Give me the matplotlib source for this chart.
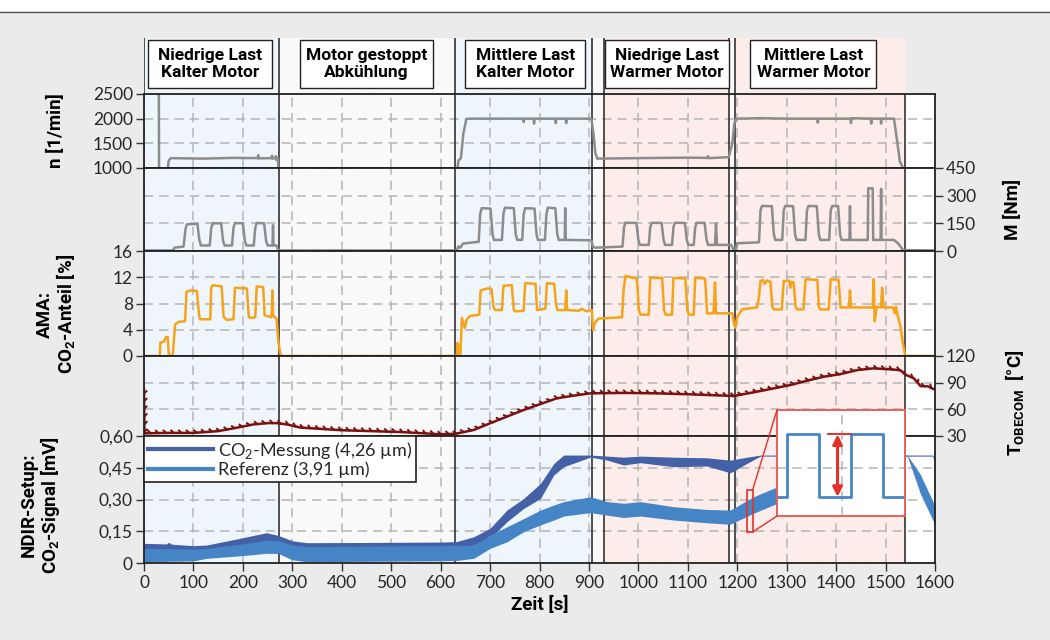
import numpy as np
import matplotlib.pyplot as plt
from matplotlib import patheffects
from matplotlib.lines import Line2D
from matplotlib.patches import Rectangle, ConnectionPatch

plt.rcParams['font.family'] = ['Lato', 'DejaVu Sans']
LABEL_FONT = ['Liberation Sans Narrow', 'Roboto', 'DejaVu Sans']

# --- test phases -----------------------------------------------------------
phase_start = [0, 273, 630, 907, 931, 1184, 1196, 1540]
phase_end = [273, 630, 907, 931, 1184, 1196, 1540, 1600]
phase_color = ['#eef6fb', '#f9f9f9', '#eef6fb', '#f9f9f9', '#fcecea', '#f9f9f9', '#fcecea', '#ffffff']
phase_lines = [273, 630, 907, 931, 1184, 1196, 1540]
box_x = [134, 450, 771, 1058, 1354]
box_w = [251, 269, 243, 249, 255]
box_text = ['Niedrige Last\nKalter Motor', 'Motor gestoppt\nAbkühlung', 'Mittlere Last\nKalter Motor',
            'Niedrige Last\nWarmer Motor', 'Mittlere Last\nWarmer Motor']

# --- measured signals (time [s], value) ------------------------------------
speed = [(30, 2600), (30.5, 900), (47, 900), (50, 1150), (54, 1200), (120, 1190), (180, 1205), (230, 1200),
         (231, 1260), (232, 1195), (258, 1200), (259, 1250), (260, 1190), (266, 1200), (267, 1240), (268, 1160),
         (271, 1200), (272, 900), (np.nan, np.nan),
         (630, 900), (633, 900), (636, 1150), (641, 1200), (646, 1700), (652, 1990), (655, 2000), (700, 2000),
         (767, 2000), (768, 1930), (769, 2000), (788, 2000), (789, 1900), (790, 2000), (832, 2000), (833, 1910),
         (834, 2000), (853, 2000), (854, 1910), (855, 2000), (905, 2000), (909, 1700), (913, 1300), (917, 1190),
         (1000, 1200), (1100, 1210), (1140, 1205), (1141, 1240), (1142, 1200), (1183, 1220), (1190, 1500),
         (1194, 1900), (1198, 2000), (1250, 2010), (1300, 2000), (1362, 2000), (1363, 1920), (1364, 2000),
         (1429, 2000), (1430, 1910), (1431, 2010), (1470, 2000), (1471, 1900), (1472, 2000), (1490, 2000),
         (1491, 1900), (1492, 2000), (1517, 2000), (1525, 1430), (1529, 1130), (1534, 1030), (1536, 900)]

torque = [(0, 3), (58, 3), (62, 18), (80, 24), (84, 120), (87, 145), (108, 147), (112, 60), (115, 30), (133, 30),
          (136, 125), (139, 150), (156, 150), (160, 55), (163, 30), (178, 30), (181, 125), (184, 152), (200, 150),
          (204, 55), (207, 30), (222, 30), (225, 125), (228, 152), (243, 150), (247, 55), (250, 30), (260, 30),
          (261, 140), (262, 30), (268, 30), (271, 8), (275, 3), (630, 3),
          (633, 3), (636, 25), (640, 18), (645, 40), (660, 45), (677, 50), (680, 200), (683, 232), (701, 230),
          (705, 90), (708, 60), (724, 60), (727, 200), (730, 235), (748, 232), (752, 90), (755, 60), (765, 60),
          (768, 200), (771, 232), (790, 230), (794, 90), (797, 60), (811, 60), (814, 200), (817, 235), (832, 232),
          (836, 90), (839, 60), (851, 60), (852, 232), (853, 60), (905, 58), (908, 25), (912, 18), (968, 24),
          (971, 130), (974, 153), (996, 152), (1000, 60), (1003, 33), (1021, 33), (1024, 130), (1027, 153),
          (1047, 152), (1051, 60), (1054, 33), (1068, 33), (1071, 130), (1074, 153), (1094, 152), (1098, 60),
          (1101, 33), (1112, 33), (1115, 130), (1118, 153), (1134, 152), (1138, 60), (1141, 33), (1155, 33),
          (1157, 150), (1159, 33), (1188, 33), (1192, 5), (1196, 5),
          (1200, 42), (1244, 47), (1247, 220), (1250, 244), (1270, 243), (1274, 90), (1277, 60), (1291, 60),
          (1294, 220), (1297, 244), (1313, 243), (1317, 90), (1320, 60), (1338, 60), (1341, 220), (1344, 244),
          (1361, 243), (1365, 90), (1368, 60), (1386, 60), (1389, 220), (1392, 244), (1404, 243), (1408, 90),
          (1411, 60), (1427, 60), (1428, 244), (1429, 60), (1464, 60), (1465, 340), (1474, 340), (1475, 60),
          (1490, 60), (1491, 337), (1492, 60), (1517, 60), (1525, 42), (1530, 25), (1535, 5), (1600, 3)]

co2_ama = [(0, 0), (32, 0), (33, 2.0), (40, 2.2), (45, 2.9), (48, 2.9), (50, 0.3), (54, 0), (58, 0), (63, 4.8),
           (70, 5.2), (83, 5.3), (86, 9.8), (95, 10.0), (107, 9.9), (111, 6.5), (113, 5.6), (134, 5.6), (136, 10.5),
           (140, 10.8), (157, 10.6), (161, 6), (167, 5.5), (181, 5.6), (184, 10.4), (208, 10.3), (212, 6),
           (215, 5.8), (225, 5.9), (228, 10.6), (241, 10.5), (244, 6.2), (258, 5.9), (260, 10), (261, 6.2),
           (268, 5.7), (272, 2), (276, 0.3), (279, 0), (633, 0), (634, 2), (636, 1.5), (638, 0), (640, 0),
           (643, 5.8), (649, 4.3), (653, 5.6), (660, 6.1), (678, 6.3), (681, 10.0), (695, 10.3), (703, 10.2),
           (707, 7.5), (710, 7.0), (724, 7.0), (727, 10.7), (744, 10.8), (748, 7), (751, 6.8), (768, 6.9),
           (771, 11.1), (792, 11), (795, 7), (812, 7.2), (815, 11.1), (830, 11), (833, 8), (836, 7), (852, 7),
           (854, 10), (856, 7), (880, 6.9), (885, 7.2), (895, 6.8), (906, 7), (908, 4), (912, 5), (919, 5.7),
           (967, 5.9), (970, 10), (974, 12.2), (990, 11.9), (997, 11.8), (1001, 7), (1004, 6.3), (1021, 6.3),
           (1024, 11.9), (1048, 11.9), (1052, 7), (1055, 6.3), (1068, 6.3), (1071, 11.9), (1095, 11.8),
           (1099, 7), (1102, 6.3), (1112, 6.3), (1115, 11.9), (1135, 11.8), (1139, 6.5), (1152, 6.5),
           (1155, 11.2), (1157, 6.5), (1190, 6.5), (1193, 5), (1196, 4.3), (1200, 6), (1210, 7.1), (1240, 7.4),
           (1244, 9), (1247, 11.4), (1252, 11.6), (1255, 11.0), (1260, 11.5), (1267, 11.3), (1271, 7.5),
           (1274, 7.1), (1290, 7.1), (1294, 11.4), (1305, 11.5), (1307, 10.4), (1310, 11.3), (1314, 11.2),
           (1318, 7.5), (1321, 7.1), (1334, 7.1), (1338, 11.6), (1341, 11.7), (1362, 11.6), (1365, 7.5),
           (1368, 7.1), (1385, 7.1), (1389, 11.7), (1405, 11.6), (1409, 7.4), (1426, 7.4), (1428, 10),
           (1430, 7.4), (1474, 7.4), (1476, 11.7), (1478, 5.3), (1482, 7.5), (1491, 7.4), (1493, 10.4),
           (1496, 7.4), (1515, 7.4), (1517, 7), (1519, 6.5), (1521, 7.5), (1525, 6), (1530, 4.6), (1535, 2),
           (1540, 0), (1600, 0)]

temp = [(0, 82), (0.8, 33), (50, 33.5), (100, 33.5), (150, 35.5), (181, 38.6), (221, 43), (250, 44.5),
        (268, 44.5), (290, 43), (316, 39.5), (400, 36.5), (518, 34.5), (599, 32), (630, 32.5), (667, 36.8),
        (700, 44.3), (734, 51.8), (768, 59.3), (802, 66), (835, 72.4), (869, 75.4), (903, 78), (970, 78.5),
        (1038, 78), (1105, 76.9), (1193, 75), (1240, 79.9), (1274, 83.6), (1308, 87.4), (1341, 92.2),
        (1375, 96.7), (1409, 99.7), (1443, 104.2), (1476, 106.1), (1510, 105), (1530, 104), (1540, 99),
        (1557, 95), (1571, 86), (1585, 86), (1600, 82)]

# NDIR signal bands: time, upper envelope, lower envelope [mV]
meas_t = [0, 45, 50, 55, 60, 100, 127, 180, 221, 248, 272, 300, 329, 450, 599, 632, 667, 700, 734, 768, 802,
          829, 849, 903, 937, 970, 1004, 1071, 1139, 1186, 1220, 1247, 1595, 1600]
meas_hi = [0.093, 0.09, 0.098, 0.09, 0.088, 0.082, 0.085, 0.11, 0.13, 0.143, 0.13, 0.105, 0.096, 0.097, 0.099,
           0.101, 0.124, 0.164, 0.25, 0.305, 0.376, 0.47, 0.51, 0.51, 0.505, 0.50, 0.505, 0.50, 0.497, 0.486,
           0.5, 0.51, 0.51, 0.49]
meas_lo = [0.05, 0.05, 0.05, 0.05, 0.05, 0.05, 0.05, 0.06, 0.07, 0.08, 0.08, 0.06, 0.05, 0.05, 0.05, 0.05,
           0.085, 0.116, 0.195, 0.258, 0.305, 0.416, 0.455, 0.50, 0.486, 0.463, 0.474, 0.455, 0.458, 0.426,
           0.471, 0.505, 0.505, 0.47]
ref_t = [0, 100, 127, 200, 248, 272, 300, 329, 450, 599, 632, 667, 700, 734, 768, 802, 829, 849, 903, 937,
         970, 1004, 1071, 1139, 1186, 1233, 1281, 1400, 1500, 1544, 1570, 1600]
ref_hi = [0.07, 0.065, 0.069, 0.09, 0.109, 0.105, 0.085, 0.077, 0.08, 0.082, 0.083, 0.085, 0.132, 0.171, 0.21,
          0.25, 0.274, 0.29, 0.313, 0.29, 0.282, 0.29, 0.266, 0.253, 0.25, 0.313, 0.36, 0.45, 0.51, 0.51, 0.42,
          0.27]
ref_lo = [0.006, 0.01, 0.022, 0.035, 0.046, 0.045, 0.015, 0.006, 0.008, 0.01, 0.012, 0.022, 0.069, 0.1, 0.148,
          0.18, 0.203, 0.222, 0.238, 0.226, 0.215, 0.222, 0.203, 0.19, 0.183, 0.235, 0.282, 0.38, 0.48, 0.505,
          0.33, 0.18]

# zoomed detail (modulated signal)
zoom_window = [1219, 1231, 0.146, 0.345]
inset_t = [0, 0.8, 0.8, 3.25, 3.25, 5.75, 5.75, 8.3, 8.3, 10]
inset_v = [0.18, 0.18, 0.77, 0.77, 0.18, 0.18, 0.77, 0.77, 0.18, 0.18]

x_ticks = list(range(0, 1601, 100))
n_ticks = [1000, 1500, 2000, 2500]
m_ticks = [0, 150, 300, 450]
ama_ticks = [0, 4, 8, 12, 16]
t_ticks = [30, 60, 90, 120]
ndir_ticks = [0, 0.15, 0.30, 0.45, 0.60]
ndir_labels = ['0', '0,15', '0,30', '0,45', '0,60']

GRAY = '#8c8c8c'
ORANGE = '#f5a31a'
DARKRED = '#7a1010'
MEAS_C = '#4461a8'
REF_C = '#4585c5'
RED = '#e5302a'
TXT = '#262626'

W, H = 1050, 640
X0, X1 = 144 / W, 935 / W
fig = plt.figure(figsize=(W / 100, H / 100), dpi=100, facecolor='#ebebeb')
fig.add_artist(Rectangle((0, 1 - 11 / H), 1, 11 / H, transform=fig.transFigure, fc='white', ec='none'))
fig.add_artist(Line2D([0, 1], [1 - 11.5 / H] * 2, transform=fig.transFigure, color='#555555', lw=1))


def panel(top, bottom):
    return fig.add_axes([X0, 1 - bottom / H, X1 - X0, (bottom - top) / H])


head = panel(38, 94)
ax_n = panel(94, 168)
ax_m = panel(168, 251)
ax_a = panel(251, 356)
ax_t = panel(356, 436)
ax_d = panel(436, 563)

# header strip with phase boxes
head.set_xlim(0, 1600)
head.set_ylim(0, 1)
head.patch.set_alpha(0)
head.axis('off')
for s, e, c in zip(phase_start[:-1], phase_end[:-1], phase_color[:-1]):
    head.axvspan(s, e, color=c, lw=0)
for x in [0] + phase_lines[:-1]:
    head.axvline(x, color='#222222', lw=1.1)
for x, w, txt in zip(box_x, box_w, box_text):
    head.add_patch(Rectangle((x - w / 2, 0.107), w, 0.857, fc='white', ec='#222222', lw=1, zorder=3))
    head.text(x, 0.535, txt, ha='center', va='center', fontsize=12.5, fontweight='bold', family=LABEL_FONT,
              linespacing=1.15, zorder=4)

for ax in [ax_n, ax_m, ax_a, ax_t, ax_d]:
    ax.set_xlim(0, 1600)
    ax.set_facecolor('white')
    for s, e, c in zip(phase_start, phase_end, phase_color):
        ax.axvspan(s, e, color=c, lw=0, zorder=0.5)
    for x in phase_lines:
        ax.axvline(x, color='#222222', lw=1.1, zorder=1.8)
    ax.set_xticks(x_ticks)
    ax.grid(True, color='#b4b4b4', ls=(0, (6, 4)), lw=1.1)
    ax.tick_params(axis='x', length=0, labelbottom=False)
    ax.tick_params(axis='y', direction='out', length=6, width=1, color='#333333', labelsize=12.5,
                   labelcolor=TXT, pad=2)
    for sp in ax.spines.values():
        sp.set_color('#222222')
        sp.set_linewidth(1.3)

lab = dict(fontsize=13.5, fontweight='bold', family=LABEL_FONT, linespacing=1.0)

# engine speed
t, v = zip(*speed)
ax_n.plot(t, v, color=GRAY, lw=1.8)
ax_n.set_ylim(1000, 2500)
ax_n.set_yticks(n_ticks)
ax_n.set_ylabel('n [1/min]', **lab)
ax_n.yaxis.set_label_coords(-0.1, 0.5)

# torque
t, v = zip(*torque)
ax_m.plot(t, v, color=GRAY, lw=1.8)
ax_m.set_ylim(0, 450)
ax_m.set_yticks(m_ticks)
ax_m.yaxis.tick_right()
ax_m.yaxis.set_label_position('right')
ax_m.set_ylabel('M [Nm]', **lab)
ax_m.yaxis.set_label_coords(1.087, 0.5)

# AMA CO2
t, v = zip(*co2_ama)
ax_a.plot(t, v, color=ORANGE, lw=1.8)
ax_a.set_ylim(0, 16)
ax_a.set_yticks(ama_ticks)
ax_a.set_ylabel('AMA:\nCO$_\\mathregular{2}$-Anteil [%]', **lab)
ax_a.yaxis.set_label_coords(-0.084, 0.4)

# exhaust temperature (ripple from the load cycling drawn as a ticked stroke)
t, v = zip(*temp)
ax_t.plot(t, v, color=DARKRED, lw=1.8,
          path_effects=[patheffects.withTickedStroke(spacing=5.5, angle=135, length=0.45, linewidth=1.4)])
ax_t.set_ylim(30, 120)
ax_t.set_yticks(t_ticks)
ax_t.yaxis.tick_right()
ax_t.yaxis.set_label_position('right')
ax_t.set_ylabel('T$_\\mathregular{OBECOM}$  [°C]', **lab)
ax_t.yaxis.set_label_coords(1.087, 0.42)

# NDIR signals
ax_d.fill_between(meas_t, meas_lo, meas_hi, color=MEAS_C, lw=0, zorder=2)
ax_d.fill_between(ref_t, ref_lo, ref_hi, color=REF_C, lw=0, zorder=2.1)
ax_d.set_ylim(0, 0.6)
ax_d.set_yticks(ndir_ticks)
ax_d.set_yticklabels(ndir_labels)
ax_d.tick_params(axis='x', direction='out', length=6, width=1, color='#333333', labelsize=12.5,
                 labelcolor=TXT, labelbottom=True, pad=3)
ax_d.set_ylabel('NDIR-Setup:\nCO$_\\mathregular{2}$-Signal [mV]', **lab)
ax_d.yaxis.set_label_coords(-0.104, 0.46)
ax_d.set_xlabel('Zeit [s]', fontsize=13.5, fontweight='bold', family=LABEL_FONT, labelpad=3)

handles = [Line2D([], [], color=MEAS_C, lw=3), Line2D([], [], color=REF_C, lw=3)]
leg = ax_d.legend(handles, ['CO$_\\mathregular{2}$-Messung (4,26 µm)', 'Referenz (3,91 µm)'],
                  loc='upper left', bbox_to_anchor=(0, 1), borderaxespad=0, fontsize=13,
                  handlelength=3.6, handletextpad=0.3, borderpad=0.2, labelspacing=0.05,
                  fancybox=False, framealpha=1, edgecolor='#222222', labelcolor=TXT)
leg.get_frame().set_linewidth(1.2)
leg.set_zorder(5)

# zoom marker and inset
zx0, zx1, zy0, zy1 = zoom_window
ax_d.add_patch(Rectangle((zx0, zy0), zx1 - zx0, zy1 - zy0, fill=False, ec=RED, lw=1.2, zorder=4))

ins = fig.add_axes([777 / W, 1 - 516 / H, 128 / W, 106 / H])
ins.set_facecolor('white')
ins.plot(inset_t, inset_v, color=REF_C, lw=2)
ins.set_xlim(0, 10)
ins.set_ylim(0, 1)
ins.set_xticks([5.05])
ins.set_yticks([0.456])
ins.grid(True, color='#b4b4b4', ls=(0, (6, 4)), lw=1.1)
ins.tick_params(length=0, labelbottom=False, labelleft=False)
for sp in ins.spines.values():
    sp.set_color('#e8605a')
    sp.set_linewidth(1.4)
ins.plot([4.0, 5.76], [0.77, 0.77], color=RED, lw=1.4)
ins.annotate('', xy=(4.73, 0.18), xytext=(4.73, 0.77),
             arrowprops=dict(arrowstyle='<|-|>', color=RED, lw=2.2, mutation_scale=14, shrinkA=0, shrinkB=0))

for ya, yb in [(zy1, 1), (zy0, 0)]:
    fig.add_artist(ConnectionPatch(xyA=(zx1, ya), coordsA=ax_d.transData, xyB=(0, yb),
                                   coordsB=ins.transAxes, color=RED, lw=1))

fig.savefig('out.png', dpi=100, facecolor=fig.get_facecolor())
